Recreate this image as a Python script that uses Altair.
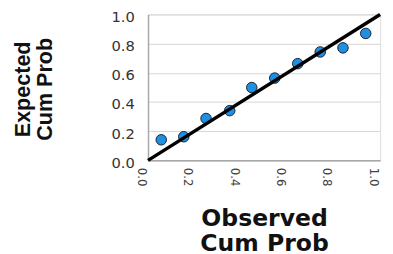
import altair as alt
import pandas as pd

observed = [0.057, 0.154, 0.25, 0.352, 0.447, 0.546, 0.645, 0.742, 0.84, 0.938]
expected = [0.141, 0.162, 0.287, 0.341, 0.499, 0.564, 0.663, 0.743, 0.771, 0.870]
ref_x = [0.0, 1.0]
ref_y = [0.0, 1.0]
ticks = [0.0, 0.2, 0.4, 0.6, 0.8, 1.0]

pts = pd.DataFrame({"obs": observed, "exp": expected})
ref = pd.DataFrame({"obs": ref_x, "exp": ref_y})

xs = alt.Scale(domain=[0, 1], nice=False, zero=False)
ys = alt.Scale(domain=[0, 1], nice=False, zero=False)

x_axis = alt.Axis(
    title=["Observed", "Cum Prob"], values=ticks, format=".1f", grid=False,
    ticks=False, labelAngle=90, labelAlign="left", labelBaseline="middle",
    labelPadding=7, labelOffset=-7, labelFont="DejaVu Sans", labelFontSize=12,
    labelColor="#444444", domainColor="#a8a8a8", domainWidth=1.5,
    labelOverlap=False, labelFlush=False,
    titleFont="DejaVu Sans", titleFontSize=24, titleFontWeight="bold",
    titleColor="#111111", titleLineHeight=25, titleBaseline="top",
    titleAlign="center", titleY=48,
)
y_axis = alt.Axis(
    title=["Expected", "Cum Prob"], values=ticks, format=".1f", grid=True,
    gridColor="#d6d6d6", gridWidth=1, ticks=False, labelPadding=14,
    labelFont="DejaVu Sans", labelFontSize=15, labelColor="#333333",
    labelBaseline="middle", labelOffset=2, labelFlush=False, labelOverlap=False,
    domainColor="#a8a8a8", domainWidth=1.5,
    titleFont="Liberation Sans", titleFontSize=22, titleFontWeight="bold",
    titleColor="#111111", titleLineHeight=22, titleBaseline="top",
    titleAlign="center", titleAngle=270, titleX=-138, titleY=76,
)

points = alt.Chart(pts).mark_point(
    filled=True, size=115, fill="#1f8fe0", stroke="#14213a", strokeWidth=1, opacity=1
).encode(
    x=alt.X("obs:Q", scale=xs, axis=x_axis),
    y=alt.Y("exp:Q", scale=ys, axis=y_axis),
)

line = alt.Chart(ref).mark_line(color="#000000", strokeWidth=3.5).encode(
    x=alt.X("obs:Q", scale=xs, axis=x_axis),
    y=alt.Y("exp:Q", scale=ys, axis=y_axis),
)

chart = alt.layer(points, line).properties(
    width=237, height=149,
    autosize=alt.AutoSizeParams(type="none"),
    padding={"left": 143, "top": 4, "right": 5, "bottom": 92},
).configure_view(stroke=None).configure(background="white")

chart.save("out.html", embed_options={"renderer": "svg", "actions": False})
